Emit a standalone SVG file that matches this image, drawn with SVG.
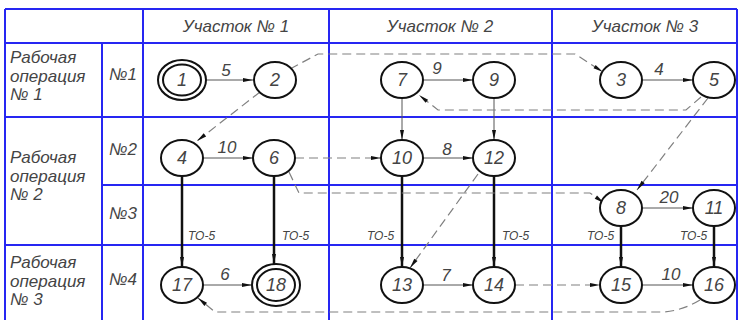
<svg xmlns="http://www.w3.org/2000/svg" width="742" height="320" viewBox="0 0 742 320">
  <style>
    text { font-family: "Liberation Sans", "DejaVu Sans", sans-serif; font-style: italic; fill: #444; }
    .hdr { font-size: 17px; text-anchor: middle; }
    .lbl { font-size: 17px; }
    .num { font-size: 18px; text-anchor: middle; }
    .el { font-size: 17px; text-anchor: middle; }
    .to { font-size: 12px; }
    .grid line { stroke: #2626f2; stroke-width: 2; }
    .node ellipse { fill: #fff; stroke: #111; stroke-width: 2; }
    .thin { stroke: #555; stroke-width: 1; fill: none; }
    .thick { stroke: #111; stroke-width: 2.5; fill: none; }
    .dash { stroke: #808080; stroke-width: 1.2; fill: none; stroke-dasharray: 9 5; }
  </style>
  <defs>
    <marker id="arr" viewBox="0 0 12 6" refX="12" refY="3" markerWidth="12" markerHeight="5" markerUnits="userSpaceOnUse" orient="auto">
      <path d="M0,0.6 L12,3 L0,5.4 Z" fill="#111"/>
    </marker>
  </defs>
  <rect x="0" y="0" width="742" height="320" fill="#fff"/>

  <!-- table grid -->
  <g id="grid" class="grid">
    <line x1="5" y1="9" x2="737" y2="9"/>
    <line x1="5" y1="43" x2="737" y2="43"/>
    <line x1="5" y1="117" x2="737" y2="117"/>
    <line x1="102" y1="185" x2="737" y2="185"/>
    <line x1="5" y1="245" x2="737" y2="245"/>
    <line x1="5" y1="9" x2="5" y2="320"/>
    <line x1="102" y1="43" x2="102" y2="320"/>
    <line x1="143" y1="9" x2="143" y2="320"/>
    <line x1="329" y1="9" x2="329" y2="320"/>
    <line x1="552" y1="9" x2="552" y2="320"/>
    <line x1="737" y1="9" x2="737" y2="320"/>
  </g>

  <!-- headers and row labels -->
  <g id="labels">
    <text class="hdr" x="236" y="32">Участок № 1</text>
    <text class="hdr" x="440" y="32">Участок № 2</text>
    <text class="hdr" x="645" y="32">Участок № 3</text>
    <text class="lbl" x="10" y="63">Рабочая</text>
    <text class="lbl" x="10" y="82">операция</text>
    <text class="lbl" x="10" y="100">№ 1</text>
    <text class="lbl" x="10" y="163">Рабочая</text>
    <text class="lbl" x="10" y="182">операция</text>
    <text class="lbl" x="10" y="200">№ 2</text>
    <text class="lbl" x="10" y="268">Рабочая</text>
    <text class="lbl" x="10" y="287">операция</text>
    <text class="lbl" x="10" y="305">№ 3</text>
    <text class="lbl" x="109" y="80">№1</text>
    <text class="lbl" x="109" y="155">№2</text>
    <text class="lbl" x="109" y="219">№3</text>
    <text class="lbl" x="109" y="285">№4</text>
  </g>

  <!-- connectors -->
  <g id="connectors">
    <!-- work arrows -->
    <line class="thin" x1="206" y1="80" x2="253" y2="80" marker-end="url(#arr)"/>
    <line class="thin" x1="423" y1="80" x2="473" y2="80" marker-end="url(#arr)"/>
    <line class="thin" x1="642" y1="80" x2="693" y2="80" marker-end="url(#arr)"/>
    <line class="thin" x1="203" y1="158" x2="253" y2="158" marker-end="url(#arr)"/>
    <line class="thin" x1="423" y1="158" x2="473" y2="158" marker-end="url(#arr)"/>
    <line class="thin" x1="642" y1="208" x2="693" y2="208" marker-end="url(#arr)"/>
    <line class="thin" x1="203" y1="285" x2="252" y2="285" marker-end="url(#arr)"/>
    <line class="thin" x1="423" y1="285" x2="473" y2="285" marker-end="url(#arr)"/>
    <line class="thin" x1="642" y1="285" x2="693" y2="285" marker-end="url(#arr)"/>
    <line class="thin" x1="402" y1="98" x2="402" y2="140" marker-end="url(#arr)"/>
    <line class="thin" x1="494" y1="98" x2="494" y2="140" marker-end="url(#arr)"/>
    <!-- transport arrows -->
    <line class="thick" x1="182" y1="176" x2="182" y2="267" marker-end="url(#arr)"/>
    <line class="thick" x1="274" y1="176" x2="274" y2="264" marker-end="url(#arr)"/>
    <line class="thick" x1="402" y1="176" x2="402" y2="267" marker-end="url(#arr)"/>
    <line class="thick" x1="494" y1="176" x2="494" y2="267" marker-end="url(#arr)"/>
    <line class="thick" x1="621" y1="226" x2="621" y2="267" marker-end="url(#arr)"/>
    <line class="thick" x1="714" y1="226" x2="714" y2="267" marker-end="url(#arr)"/>
    <!-- dependencies -->
    <path class="dash" d="M260,92 L197,141" marker-end="url(#arr)"/>
    <path class="dash" d="M290,69 L318,54 L575,54 L603,72" marker-end="url(#arr)"/>
    <path class="dash" d="M701,97 L686,110 L438,110 L419,95" marker-end="url(#arr)"/>
    <path class="dash" d="M708,98 L637,190" marker-end="url(#arr)"/>
    <path class="dash" d="M295,158 L381,158" marker-end="url(#arr)"/>
    <path class="dash" d="M289,172 L299,193 L590,193 L604,203" marker-end="url(#arr)"/>
    <path class="dash" d="M478,174 L410,268" marker-end="url(#arr)"/>
    <path class="dash" d="M515,285 L600,285" marker-end="url(#arr)"/>
    <path class="dash" d="M700,300 Q680,312 660,312 L215,312 L198,298" marker-end="url(#arr)"/>
    <!-- arrow labels -->
    <text class="el" x="226" y="76">5</text>
    <text class="el" x="437" y="74">9</text>
    <text class="el" x="659" y="75">4</text>
    <text class="el" x="227" y="153">10</text>
    <text class="el" x="447" y="155">8</text>
    <text class="el" x="669" y="203">20</text>
    <text class="el" x="225" y="280">6</text>
    <text class="el" x="446" y="281">7</text>
    <text class="el" x="671" y="280">10</text>
    <text class="to" x="188" y="240">ТО-5</text>
    <text class="to" x="282" y="240">ТО-5</text>
    <text class="to" x="367" y="240">ТО-5</text>
    <text class="to" x="502" y="240">ТО-5</text>
    <text class="to" x="587" y="240">ТО-5</text>
    <text class="to" x="680" y="240">ТО-5</text>
  </g>

  <!-- events -->
  <g id="n1" class="node"><ellipse cx="182" cy="80" rx="24" ry="20"/><ellipse cx="182" cy="80" rx="19" ry="15.5"/><text class="num" x="182" y="86">1</text></g>
  <g id="n2" class="node"><ellipse cx="275" cy="80" rx="21" ry="18"/><text class="num" x="275" y="86">2</text></g>
  <g id="n7" class="node"><ellipse cx="402" cy="80" rx="21" ry="18"/><text class="num" x="402" y="86">7</text></g>
  <g id="n9" class="node"><ellipse cx="494" cy="80" rx="21" ry="18"/><text class="num" x="494" y="86">9</text></g>
  <g id="n3" class="node"><ellipse cx="621" cy="80" rx="21" ry="18"/><text class="num" x="621" y="86">3</text></g>
  <g id="n5" class="node"><ellipse cx="714" cy="80" rx="21" ry="18"/><text class="num" x="714" y="86">5</text></g>
  <g id="n4" class="node"><ellipse cx="182" cy="158" rx="21" ry="18"/><text class="num" x="182" y="164">4</text></g>
  <g id="n6" class="node"><ellipse cx="274" cy="158" rx="21" ry="18"/><text class="num" x="274" y="164">6</text></g>
  <g id="n10" class="node"><ellipse cx="402" cy="158" rx="21" ry="18"/><text class="num" x="402" y="164">10</text></g>
  <g id="n12" class="node"><ellipse cx="494" cy="158" rx="21" ry="18"/><text class="num" x="494" y="164">12</text></g>
  <g id="n8" class="node"><ellipse cx="621" cy="208" rx="21" ry="18"/><text class="num" x="621" y="214">8</text></g>
  <g id="n11" class="node"><ellipse cx="714" cy="208" rx="21" ry="18"/><text class="num" x="714" y="214">11</text></g>
  <g id="n17" class="node"><ellipse cx="182" cy="285" rx="21" ry="18"/><text class="num" x="182" y="291">17</text></g>
  <g id="n18" class="node"><ellipse cx="276" cy="285" rx="24" ry="21"/><ellipse cx="276" cy="285" rx="19" ry="16"/><text class="num" x="276" y="291">18</text></g>
  <g id="n13" class="node"><ellipse cx="402" cy="285" rx="21" ry="18"/><text class="num" x="402" y="291">13</text></g>
  <g id="n14" class="node"><ellipse cx="494" cy="285" rx="21" ry="18"/><text class="num" x="494" y="291">14</text></g>
  <g id="n15" class="node"><ellipse cx="621" cy="285" rx="21" ry="18"/><text class="num" x="621" y="291">15</text></g>
  <g id="n16" class="node"><ellipse cx="714" cy="285" rx="21" ry="18"/><text class="num" x="714" y="291">16</text></g>
</svg>
